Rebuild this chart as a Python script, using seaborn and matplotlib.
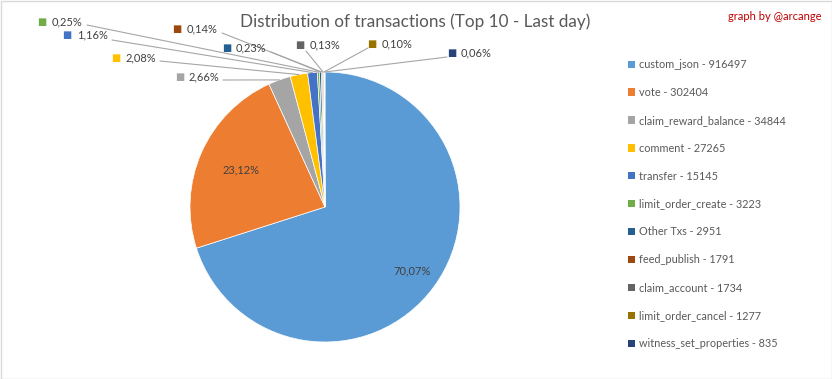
import matplotlib
matplotlib.use('Agg')
import matplotlib.pyplot as plt
import seaborn as sns
import numpy as np

# data
tx_types = ['custom_json', 'vote', 'claim_reward_balance', 'comment', 'transfer',
            'limit_order_create', 'Other Txs', 'feed_publish', 'claim_account',
            'limit_order_cancel', 'witness_set_properties']
tx_counts = [916497, 302404, 34844, 27265, 15145, 3223, 2951, 1791, 1734, 1277, 835]
colors = ['#5B9BD5', '#ED7D31', '#A5A5A5', '#FFC000', '#4472C4', '#70AD47',
          '#255E91', '#9E480E', '#636363', '#997300', '#264478']

sns.set_style('white')
plt.rcParams['font.family'] = ['Lato', 'DejaVu Sans']

W, H = 832, 379
fig = plt.figure(figsize=(W / 100, H / 100), dpi=100)

# pie centre (325, 207) px, radius 135 px
cx, cy, r = 325, 207, 135
ax = fig.add_axes([(cx - r) / W, (H - cy - r) / H, 2 * r / W, 2 * r / H])

total = sum(tx_counts)
pcts = [v / total * 100 for v in tx_counts]
fmt = lambda p: f'{p:.2f}'.replace('.', ',') + '%'

wedges, _ = ax.pie(tx_counts, colors=colors, startangle=90, counterclock=False,
                   radius=1, wedgeprops=dict(edgecolor='white', linewidth=0.5))
ax.set_xlim(-1, 1)
ax.set_ylim(-1, 1)
ax.set_aspect('equal')
ax.axis('off')

# inside labels for the two big slices
for i, dist in [(0, 0.8), (1, 0.68)]:
    w = wedges[i]
    ang = np.deg2rad((w.theta1 + w.theta2) / 2)
    ax.text(dist * np.cos(ang), dist * np.sin(ang), fmt(pcts[i]),
            ha='center', va='center', fontsize=8, color='#404040')

# outside labels: (square x, text x, y, line start x, line start y) in image px
outside = {
    2: (180, 189, 77, 223, 80),
    3: (116, 126, 58, 160, 61),
    4: (67, 77, 35, 112, 40),
    5: (42, 52, 22, 87, 25),
    6: (227, 236, 48, 271, 52),
    7: (177, 187, 29, 222, 33),
    8: (300, 310, 45, 306, 51),
    9: (372, 382, 44, 368, 48),
    10: (452, 461, 53, 447, 57),
}
for i, (sx, tx, ty, lx, ly) in outside.items():
    w = wedges[i]
    ang = np.deg2rad((w.theta1 + w.theta2) / 2)
    ax.annotate('', xy=(np.cos(ang), np.sin(ang)), xycoords='data',
                xytext=(lx, H - ly), textcoords='figure pixels',
                arrowprops=dict(arrowstyle='-', color='#A6A6A6', lw=0.8,
                                shrinkA=0, shrinkB=0), annotation_clip=False)
    fig.text(sx / W, 1 - ty / H, '■', fontsize=7, color=colors[i],
             ha='center', va='center', family='DejaVu Sans')
    fig.text(tx / W, 1 - ty / H, fmt(pcts[i]), fontsize=8, color='#404040',
             ha='left', va='center')

# legend
labels = [f'{n} - {v}' for n, v in zip(tx_types, tx_counts)]
leg = fig.legend(wedges, labels, loc='upper left', bbox_to_anchor=(628 / W, 1 - 59 / H),
                 frameon=False, fontsize=7.8, labelspacing=1.56, handlelength=0.65,
                 handleheight=0.65, handletextpad=0.35, borderpad=0, borderaxespad=0)
for t in leg.get_texts():
    t.set_color('#595959')
for h in leg.legend_handles:
    h.set_edgecolor('none')

fig.text(415 / W, 1 - 22 / H, 'Distribution of transactions (Top 10 - Last day)',
         fontsize=12.3, color='#595959', ha='center', va='center')
fig.text(822 / W, 1 - 17 / H, 'graph by @arcange', fontsize=8, color='#C00000',
         ha='right', va='center')

# thin frame around the image
fig.patches.append(plt.Rectangle((0.5 / W, 0.5 / H), 1 - 1 / W, 1 - 1 / H,
                                 transform=fig.transFigure, fill=False,
                                 edgecolor='#D9D9D9', lw=1))

fig.savefig('out.png', dpi=100)
